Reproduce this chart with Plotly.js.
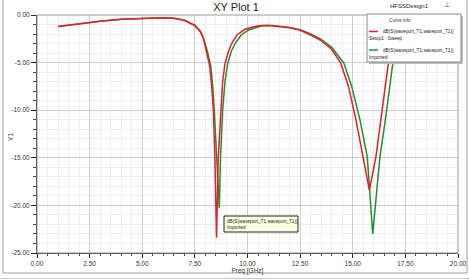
<!DOCTYPE html>
<html>
<head>
<meta charset="utf-8">
<script src="https://cdn.plot.ly/plotly-3.0.1.min.js"></script>
<style>html,body{margin:0;padding:0;background:#fff;}#chart{width:469px;height:280px;}</style>
</head>
<body>
<div id="chart"></div>
<script>
// Setup1 : Sweep (red)
const sweepFreq = [1, 2, 3, 4, 5, 6, 6.5, 7, 7.5, 7.75, 7.9, 8.05, 8.2, 8.3, 8.38, 8.45, 8.53, 8.61, 8.72, 8.82, 8.93, 9.1, 9.25, 9.5, 9.88, 10.5, 11, 12, 12.5, 13, 13.5, 14, 14.43, 14.8, 15.15, 15.47, 15.79, 16.1, 16.33, 16.69, 17.0, 17.5, 18];
const sweepDb   = [-1.22, -0.9, -0.65, -0.45, -0.35, -0.3, -0.35, -0.55, -1.1, -1.7, -2.4, -3.7, -5.3, -7.5, -10, -15, -23.4, -15, -10, -7.0, -5.1, -3.8, -3.0, -2.1, -1.5, -1.12, -1.1, -1.35, -1.6, -2.1, -2.7, -3.6, -5.06, -7.5, -11, -14.9, -18.4, -14.9, -11, -5.1, -3.0, -1.8, -1.4];
// Imported (green)
const impFreq = [1, 2, 3, 4, 5, 6, 6.5, 7, 7.5, 7.75, 7.9, 8.08, 8.25, 8.35, 8.42, 8.53, 8.66, 8.72, 8.82, 8.93, 9.06, 9.23, 9.41, 9.7, 10.04, 10.74, 11.2, 12, 12.5, 13, 13.5, 14, 14.58, 14.95, 15.34, 15.69, 15.95, 16.29, 16.55, 16.9, 17.2, 17.6, 18];
const impDb   = [-1.22, -0.9, -0.65, -0.45, -0.35, -0.3, -0.35, -0.55, -1.1, -1.7, -2.4, -3.7, -5.3, -7.5, -10, -14.9, -20.3, -14.9, -10, -7.0, -5.1, -3.8, -3.0, -2.1, -1.58, -1.1, -1.1, -1.3, -1.55, -2.0, -2.55, -3.4, -5.06, -7.5, -11, -14.9, -23.0, -14.9, -11, -5.1, -3.0, -1.8, -1.4];

const xTickVals = [0, 2.5, 5, 7.5, 10, 12.5, 15, 17.5, 20];
const xTickText = ["0.00", "2.50", "5.00", "7.50", "10.00", "12.50", "15.00", "17.50", "20.00"];
const yTickVals = [0, -5, -10, -15, -20, -25];
const yTickText = ["0.00", "-5.00", "-10.00", "-15.00", "-20.00", "-25.00"];

const curveName = "dB(S(waveport_T1,waveport_T1))";
const sweepLabel = "Setup1 : Sweep";
const impLabel = "Imported";

const FONT = "Liberation Sans Narrow, Liberation Sans, Arial, sans-serif";

// pixel helpers -> paper coords (plot: x 37..458, y 15..253)
const px = v => (v - 37) / 421;
const py = v => (253 - v) / 238;

const traces = [
  {x: impFreq, y: impDb, type: 'scatter', mode: 'lines', name: impLabel,
   line: {color: '#1f8f2f', width: 1.5}},
  {x: sweepFreq, y: sweepDb, type: 'scatter', mode: 'lines', name: sweepLabel,
   line: {color: '#ee1c2a', width: 1.5}}
];

const layout = {
  width: 469, height: 280,
  margin: {l: 37, r: 11, t: 15, b: 27, pad: 0},
  paper_bgcolor: '#ffffff', plot_bgcolor: '#ffffff',
  showlegend: false,
  font: {family: FONT, size: 7, color: '#333'},
  title: {text: 'XY Plot 1', font: {family: FONT, size: 11, color: '#222'},
          x: 236/469, xanchor: 'center', y: 1 - 7/280, yanchor: 'middle'},
  xaxis: {
    range: [0, 20], tickvals: xTickVals, ticktext: xTickText,
    showline: true, linecolor: '#222', linewidth: 1,
    ticks: 'outside', ticklen: 4, tickcolor: '#222',
    gridcolor: '#cfcfcf', zeroline: false,
    minor: {dtick: 0.5, showgrid: true, gridcolor: '#eeeeee', ticks: 'outside', ticklen: 2, tickcolor: '#444'},
    tickfont: {family: FONT, size: 6.5, color: '#333'},
    title: {text: 'Freq [GHz]', font: {family: FONT, size: 6.5, color: '#333'}, standoff: 0}
  },
  yaxis: {
    range: [-25, 0], tickvals: yTickVals, ticktext: yTickText,
    showline: true, linecolor: '#222', linewidth: 1,
    ticks: 'outside', ticklen: 5, tickcolor: '#222',
    gridcolor: '#cfcfcf', zeroline: false,
    minor: {dtick: 1, showgrid: true, gridcolor: '#eeeeee', ticks: 'outside', ticklen: 3, tickcolor: '#444'},
    tickfont: {family: FONT, size: 6.5, color: '#333'}
  },
  shapes: [
    // plot border (top/right)
    {type: 'rect', xref: 'paper', yref: 'paper', x0: 0, x1: 1, y0: 0, y1: 1,
     line: {color: '#9a9a9a', width: 1}, fillcolor: 'rgba(0,0,0,0)', layer: 'above'},
    // outer window frame
    {type: 'line', xref: 'paper', yref: 'paper', x0: px(3), x1: px(3), y0: py(-1), y1: py(273),
     line: {color: '#a0a0a0', width: 1}},
    {type: 'line', xref: 'paper', yref: 'paper', x0: px(467), x1: px(467), y0: py(-1), y1: py(273),
     line: {color: '#a0a0a0', width: 1}},
    {type: 'line', xref: 'paper', yref: 'paper', x0: px(3), x1: px(467), y0: py(273), y1: py(273),
     line: {color: '#a0a0a0', width: 1}},
    {type: 'line', xref: 'paper', yref: 'paper', x0: px(0), x1: px(469), y0: py(278.5), y1: py(278.5),
     line: {color: '#c8c8c8', width: 1}},
    // legend shadow + box
    {type: 'rect', xref: 'paper', yref: 'paper', x0: px(369), x1: px(463), y0: py(64), y1: py(16),
     line: {width: 0}, fillcolor: '#bdbdbd', layer: 'above'},
    {type: 'rect', xref: 'paper', yref: 'paper', x0: px(367), x1: px(461), y0: py(62), y1: py(14),
     line: {color: '#888', width: 1}, fillcolor: '#ffffff', layer: 'above'},
    // legend line samples
    {type: 'line', xref: 'paper', yref: 'paper', x0: px(369), x1: px(378), y0: py(31.5), y1: py(31.5),
     line: {color: '#ee1c2a', width: 1.5}, layer: 'above'},
    {type: 'line', xref: 'paper', yref: 'paper', x0: px(369), x1: px(378), y0: py(50), y1: py(50),
     line: {color: '#1f8f2f', width: 1.5}, layer: 'above'},
    // marker note box
    {type: 'rect', xref: 'paper', yref: 'paper', x0: px(224), x1: px(298), y0: py(232), y1: py(216),
     line: {color: '#222', width: 1}, fillcolor: '#ffffe1', layer: 'above'}
  ],
  annotations: [
    {text: 'Y1', xref: 'paper', yref: 'paper', x: px(10), y: py(137), textangle: -90,
     xanchor: 'center', yanchor: 'middle',
     showarrow: false, font: {family: FONT, size: 6.5, color: '#333'}},
    {text: 'HFSSDesign1', xref: 'paper', yref: 'paper', x: px(431), y: py(6), yanchor: 'middle',
     showarrow: false, font: {family: FONT, size: 6, color: '#222'}},
    {text: '⊥', xref: 'paper', yref: 'paper', x: px(452), y: py(5), yanchor: 'middle',
     showarrow: false, font: {family: 'DejaVu Sans', size: 7, color: '#555'}},
    {text: 'Curve Info', xref: 'paper', yref: 'paper', x: px(413), y: py(20), yanchor: 'middle',
     showarrow: false, font: {family: FONT, size: 4.7, color: '#333'}},
    {text: curveName, xref: 'paper', yref: 'paper', x: px(381), y: py(31.5), xanchor: 'left', yanchor: 'middle',
     showarrow: false, font: {family: FONT, size: 4.7, color: '#222'}},
    {text: sweepLabel, xref: 'paper', yref: 'paper', x: px(367), y: py(39), xanchor: 'left', yanchor: 'middle',
     showarrow: false, font: {family: FONT, size: 4.7, color: '#222'}},
    {text: curveName, xref: 'paper', yref: 'paper', x: px(381), y: py(50), xanchor: 'left', yanchor: 'middle',
     showarrow: false, font: {family: FONT, size: 4.7, color: '#222'}},
    {text: impLabel, xref: 'paper', yref: 'paper', x: px(367), y: py(57.5), xanchor: 'left', yanchor: 'middle',
     showarrow: false, font: {family: FONT, size: 4.7, color: '#222'}},
    {text: curveName + '<br>' + impLabel, xref: 'paper', yref: 'paper', x: px(225), y: py(224), xanchor: 'left', yanchor: 'middle',
     align: 'left', showarrow: false, font: {family: FONT, size: 4.7, color: '#222'}}
  ]
};

Plotly.newPlot('chart', traces, layout, {displayModeBar: false, staticPlot: true});
</script>
</body>
</html>
